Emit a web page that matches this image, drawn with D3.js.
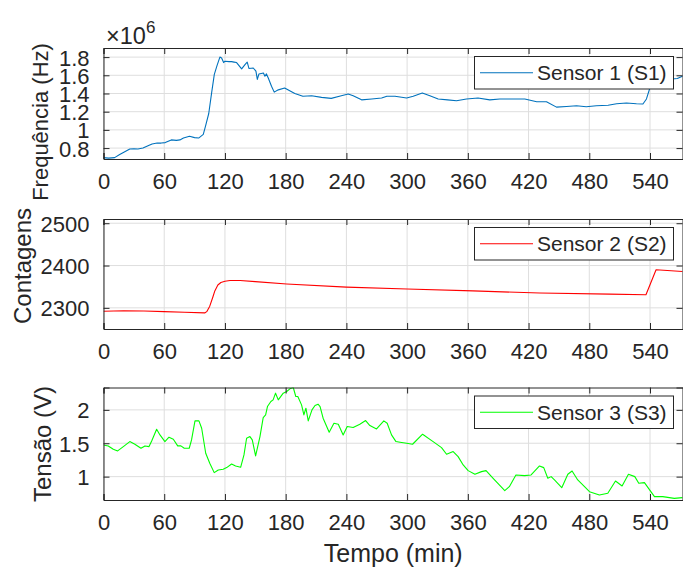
<!DOCTYPE html>
<html><head><meta charset="utf-8">
<script src="https://cdn.jsdelivr.net/npm/d3@7"></script>
<style>body{margin:0;background:#fff}svg{display:block}text{font-family:"Liberation Sans",Arial,Helvetica,sans-serif;fill:#262626}</style>
</head><body><svg id="c" width="683" height="570"></svg>
<script>
const xTicks=[0,60,120,180,240,300,360,420,480,540];
const s1Ticks=[0.8,1,1.2,1.4,1.6,1.8];
const s2Ticks=[2300,2400,2500];
const s3Ticks=[1,1.5,2];
const yLabels=["Frequência (Hz)","Contagens","Tensão (V)"];
const legendNames=["Sensor 1 (S1)","Sensor 2 (S2)","Sensor 3 (S3)"];
const colors=["#0072BD","#FF0000","#00FF00"];
const xLabel="Tempo (min)";
// S1 (x10^6 Hz)
const s1=[[0,0.695],[5,0.69],[11,0.695],[16,0.73],[21,0.76],[26,0.79],[30,0.792],[34,0.79],[39,0.80],[44,0.825],[48,0.845],[53,0.855],[57,0.855],[61,0.86],[67,0.89],[72,0.885],[75.5,0.89],[79,0.91],[85,0.93],[90,0.915],[94,0.91],[98.6,0.95],[101,1.05],[104,1.18],[107,1.42],[109.5,1.61],[112,1.70],[115,1.80],[116.7,1.79],[118.7,1.74],[120,1.755],[124,1.75],[126.6,1.75],[129,1.745],[131.5,1.74],[136.5,1.67],[140,1.72],[142,1.745],[143.7,1.675],[148,1.68],[150.6,1.645],[152,1.555],[153.6,1.615],[158,1.625],[159.5,1.59],[161,1.615],[162.8,1.57],[166,1.48],[168.7,1.415],[172.7,1.44],[179,1.46],[184,1.43],[189,1.40],[197,1.37],[205.6,1.375],[215.5,1.357],[225,1.346],[235,1.375],[241.8,1.395],[246.7,1.375],[255,1.33],[265,1.34],[274.8,1.35],[280,1.37],[288,1.37],[299.5,1.35],[306,1.37],[315,1.405],[322.5,1.375],[330.7,1.34],[340,1.33],[348.8,1.32],[358.7,1.34],[370,1.35],[381.7,1.33],[391.6,1.34],[404.7,1.34],[416.3,1.34],[428,1.31],[437.7,1.31],[447.6,1.25],[457.5,1.257],[467.4,1.265],[477,1.254],[487,1.265],[498.6,1.27],[507,1.287],[516.7,1.295],[526.6,1.287],[533,1.284],[536.5,1.34],[540.4,1.48],[543,1.56],[550,1.57],[556,1.56],[562,1.56],[567,1.565],[572,1.59]];
// S2 (counts)
const s2=[[0,2292],[20,2293],[40,2292.5],[60,2291],[80,2289.5],[100,2288],[102,2291],[105,2304],[108,2325],[110,2340],[113,2354],[116,2360],[120,2363],[125,2364.5],[135,2364.5],[150,2362],[181,2356.5],[240,2349],[300,2344.5],[365,2340],[431,2335],[500,2332.5],[536,2331],[546,2390],[572,2386]];
// S3 (V)
const s3=[[0,1.475],[4.7,1.46],[9.7,1.41],[14,1.385],[19.6,1.45],[26,1.525],[31,1.486],[37,1.425],[41,1.46],[45,1.45],[47.6,1.535],[52.5,1.71],[55.8,1.625],[60.7,1.525],[64.7,1.59],[69,1.56],[73.3,1.46],[76.5,1.46],[79.8,1.425],[84.7,1.425],[87,1.55],[90.4,1.835],[94.3,1.835],[97,1.725],[101,1.35],[105,1.2],[109.4,1.06],[113.4,1.1],[118.3,1.11],[121.7,1.135],[126.6,1.19],[130.5,1.16],[135.5,1.14],[138.8,1.325],[141.4,1.575],[144.7,1.6],[147,1.55],[150.3,1.31],[154.6,1.6],[157.8,1.885],[160.2,1.925],[162,2.05],[165.4,2.125],[167.6,2.15],[170,2.25],[172.7,2.15],[177.6,2.25],[181,2.275],[184.2,2.315],[187.5,2.335],[190,2.2],[192,2.2],[195.7,2.075],[198,1.925],[200,2.025],[202.3,1.835],[206,2.0],[209,2.065],[212,2.085],[214,2.05],[217,1.875],[223,1.665],[227.7,1.8],[232,1.785],[236.8,1.625],[240.8,1.75],[246.7,1.735],[253.3,1.785],[259,1.84],[263.2,1.765],[269.8,1.715],[277,1.835],[280.3,1.8],[284.6,1.625],[289,1.525],[293,1.515],[299.5,1.5],[305.4,1.485],[315.3,1.635],[325.7,1.525],[334,1.435],[339,1.335],[345.5,1.375],[350.4,1.3],[355.4,1.175],[360.3,1.09],[367,1.035],[373.5,1.075],[378,1.09],[385,0.975],[396.5,0.79],[401,0.85],[407.5,1.025],[416,1.015],[422.5,1.025],[430.8,1.16],[435,1.135],[439,0.975],[442.3,1.0],[445.6,0.95],[452.8,0.835],[458.8,1.035],[463,1.085],[468.6,0.95],[475.3,0.85],[480.2,0.775],[490,0.725],[498.3,0.75],[505.9,0.935],[512.4,0.86],[518.7,1.035],[525,1.0],[528.9,0.9],[534.5,0.91],[544.4,0.7],[552.6,0.7],[564,0.675],[572,0.685]];

const svg=d3.select("#c");
const L=103.5,R=683;
const x=d3.scaleLinear().domain([0,572.6]).range([L,R]);
const panels=[
 {data:s1,top:48,bot:159,dom:[0.68,1.9],ticks:s1Ticks,fmt:d=>String(d),lx:40,ly:122,fs:22},
 {data:s2,top:219,bot:329,dom:[2250,2510],ticks:s2Ticks,fmt:d=>String(d),lx:22,ly:266,fs:24},
 {data:s3,top:387.5,bot:500,dom:[0.65,2.335],ticks:s3Ticks,fmt:d=>String(d),lx:42,ly:444,fs:24}
];
const ink="#262626";
panels.forEach((p,i)=>{
  const y=d3.scaleLinear().domain(p.dom).range([p.bot,p.top]);
  const g=svg.append("g");
  const cid="clip"+i;
  svg.append("clipPath").attr("id",cid).append("rect").attr("x",L).attr("y",p.top).attr("width",R-L).attr("height",p.bot-p.top);
  // grid
  g.selectAll(".gx").data(xTicks).enter().append("line").attr("x1",d=>x(d)).attr("x2",d=>x(d)).attr("y1",p.top).attr("y2",p.bot).attr("stroke","#dedede").attr("stroke-width",1);
  g.selectAll(".gy").data(p.ticks).enter().append("line").attr("x1",L).attr("x2",R).attr("y1",d=>y(d)).attr("y2",d=>y(d)).attr("stroke","#dedede").attr("stroke-width",1);
  // line
  g.append("path").datum(p.data).attr("clip-path","url(#"+cid+")").attr("fill","none").attr("stroke",colors[i]).attr("stroke-width",1.1).attr("stroke-linejoin","round")
   .attr("d",d3.line().x(d=>x(d[0])).y(d=>y(d[1])));
  // axes
  const ax=g.append("g").attr("transform",`translate(0,${p.bot})`).call(d3.axisBottom(x).tickValues(xTicks).tickSize(-6).tickPadding(14).tickFormat(d3.format("d")));
  const axT=g.append("g").attr("transform",`translate(0,${p.top})`).call(d3.axisTop(x).tickValues(xTicks).tickSize(-6).tickFormat(""));
  const ay=g.append("g").attr("transform",`translate(${L},0)`).call(d3.axisLeft(y).tickValues(p.ticks).tickSize(-6).tickPadding(14).tickFormat(p.fmt));
  const ayR=g.append("g").attr("transform",`translate(${R-0.5},0)`).call(d3.axisRight(y).tickValues(p.ticks).tickSize(-6).tickFormat(""));
  [ax,axT,ay,ayR].forEach(a=>{a.select(".domain").attr("stroke",ink).attr("stroke-width",1);a.selectAll(".tick line").attr("stroke",ink);
    a.selectAll("text").attr("font-size",22).attr("fill",ink).style("font-family",'"Liberation Sans",Arial,sans-serif');});
  ax.selectAll("text").attr("dy","0.71em");
  ay.selectAll("text").attr("dy","0.36em");
  // y label
  svg.append("text").attr("transform",`translate(${p.lx},${p.ly}) rotate(-90)`).attr("text-anchor","middle").attr("dy","0.36em").attr("font-size",p.fs).text(yLabels[i]);
  // legend
  const lt=p.top+8.5, lh=32.5;
  const lg=svg.append("g");
  lg.append("rect").attr("x",474.5).attr("y",lt).attr("width",199).attr("height",lh).attr("fill","#fff").attr("stroke",ink).attr("stroke-width",1);
  lg.append("line").attr("x1",480).attr("x2",533).attr("y1",lt+lh/2).attr("y2",lt+lh/2).attr("stroke",colors[i]).attr("stroke-width",1.1);
  lg.append("text").attr("x",537).attr("y",lt+lh/2).attr("dy","0.36em").attr("font-size",21).text(legendNames[i]);
});
// exponent
const ex=svg.append("text").attr("x",106).attr("y",43.5).attr("font-size",23.5);
ex.append("tspan").text("×10");
ex.append("tspan").attr("font-size",17).attr("dy",-11).text("6");
svg.append("text").attr("x",x(286.3)).attr("y",553).attr("text-anchor","middle").attr("dy","0.36em").attr("font-size",25).text(xLabel);
</script></body></html>
